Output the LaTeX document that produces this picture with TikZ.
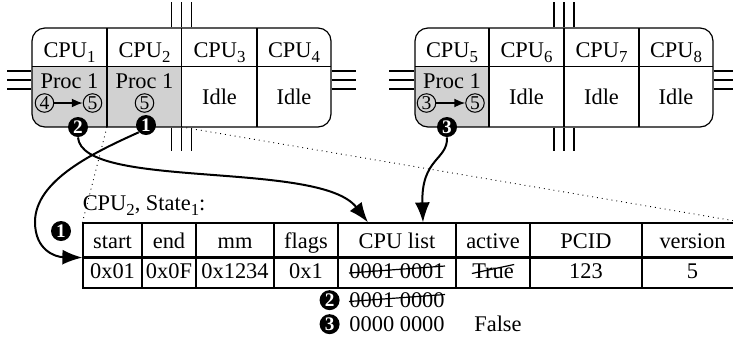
\documentclass[tikz,border=0pt]{standalone}
\usepackage{fontspec}
\setmainfont{Liberation Serif}
\usetikzlibrary{arrows.meta,calc}
\newdimen\px \px=0.5pt
\definecolor{cellgray}{gray}{0.82}
% lowered index after a name, e.g. CPU_2
\newcommand\idx[1]{\raisebox{-2.3pt}{\fontsize{8.4pt}{8.4pt}\selectfont #1}}
\begin{document}
\begin{tikzpicture}[x=0.5pt, y=-0.5pt,
  font=\fontsize{11.2pt}{13.4pt}\selectfont,
  frame/.style={line width=0.6pt},
  nodebox/.style={draw, frame, rounded corners=6.5pt, inner sep=0pt,
    minimum height=99*\px},
  tcell/.style={draw, line width=0.6pt, inner sep=0pt},
  txt/.style={inner sep=0pt, anchor=base},
  stepmark/.style={circle, fill=black, text=white, inner sep=0pt,
    minimum size=20*\px, font=\fontsize{9.6pt}{9.6pt}\selectfont\bfseries},
  circnum/.style={circle, draw, line width=0.5pt, inner sep=0pt,
    minimum size=18.5*\px, font=\fontsize{9.8pt}{9.8pt}\selectfont},
  bus/.style={line width=0.6pt},
  guide/.style={dotted, line width=0.45pt},
  bigarrow/.style={line width=1pt, -{Latex[length=10pt,width=7.5pt]}},
  smallarrow/.style={line width=0.8pt, -{Latex[length=5.5pt,width=4.5pt]}},
  strike/.style={line width=0.6pt}]

\path[use as bounding box] (0,0) rectangle (733,344);
\clip (0,0) rectangle (733,344);

% ---------- first NUMA node: CPU1..CPU4 ----------
\begin{scope}
  \clip[rounded corners=6.5pt] (32,28) rectangle (331,127);
  \fill[cellgray] (32,66.7) rectangle (181.5,127);
\end{scope}
\node[nodebox, minimum width=299*\px] (nodeA) at (181.5,77.5) {};
\draw[frame] (32,66.7) -- (331,66.7);
\foreach \x in {107,181.5,257} \draw[frame] (\x,28) -- (\x,127);
\foreach \d in {-10,0,10} {
  \draw[bus] ($(nodeA.north)+(\d,0)$) -- ++(0,-25);
  \draw[bus] ($(nodeA.south)+(\d,0)$) -- ++(0,23);
}
\foreach \d in {-6.5,2.5,11.5} {
  \draw[bus] ($(nodeA.west)+(0,\d)$) -- ++(-24,0);
  \draw[bus] ($(nodeA.east)+(0,\d)$) -- ++(24,0);
}
\node[txt] (c1) at (69.5,57.5) {CPU\idx{1}};
\node[txt] (c2) at (144.5,57.5) {CPU\idx{2}};
\node[txt] (c3) at (219.5,57.5) {CPU\idx{3}};
\node[txt] (c4) at (294,57.5) {CPU\idx{4}};
\node[txt] (p1) at (69.5,88.5) {Proc 1};
\node[circnum] (p1a) at (44.5,103) {4};
\node[circnum] (p1b) at (92.5,103) {5};
\draw[smallarrow] (p1a) -- (p1b);
\node[txt] (p2) at (144.5,88.5) {Proc 1};
\node[circnum] (p2a) at (144.5,103) {5};
\node[txt] (i3) at (219.5,104) {Idle};
\node[txt] (i4) at (294,104) {Idle};

% ---------- second NUMA node: CPU5..CPU8 ----------
\begin{scope}
  \clip[rounded corners=6.5pt] (415,28) rectangle (713,127);
  \fill[cellgray] (415,66.7) rectangle (489,127);
\end{scope}
\node[nodebox, minimum width=298*\px] (nodeB) at (564,77.5) {};
\draw[frame] (415,66.7) -- (713,66.7);
\foreach \x in {489,564,639} \draw[frame] (\x,28) -- (\x,127);
\foreach \d in {-10,0,10} {
  \draw[bus] ($(nodeB.north)+(\d,0)$) -- ++(0,-25);
  \draw[bus] ($(nodeB.south)+(\d,0)$) -- ++(0,23);
}
\foreach \d in {-6.5,2.5,11.5} {
  \draw[bus] ($(nodeB.west)+(0,\d)$) -- ++(-25,0);
  \draw[bus] ($(nodeB.east)+(0,\d)$) -- ++(30,0);
}
\node[txt] (c5) at (452,57.5) {CPU\idx{5}};
\node[txt] (c6) at (526.5,57.5) {CPU\idx{6}};
\node[txt] (c7) at (601.5,57.5) {CPU\idx{7}};
\node[txt] (c8) at (676,57.5) {CPU\idx{8}};
\node[txt] (p5) at (452,88.5) {Proc 1};
\node[circnum] (p5a) at (426.5,103) {3};
\node[circnum] (p5b) at (475,103) {5};
\draw[smallarrow] (p5a) -- (p5b);
\node[txt] (i6) at (526.5,104) {Idle};
\node[txt] (i7) at (601.5,104) {Idle};
\node[txt] (i8) at (676,104) {Idle};

% ---------- per-CPU state table ----------
\foreach \i/\l/\r/\ha/\va in {1/83/142/start/0x01, 2/142/196/end/0x0F,
    3/196/274/mm/0x1234, 4/274/338/flags/0x1, 5/338/456/CPU list/0001 0001,
    6/456/530/active/True, 7/530/642/PCID/123, 8/642/743/version/5} {
  \node[tcell, minimum width={(\r-\l)*\px}, minimum height=34*\px]
    (h\i) at ({(\l+\r)/2},240) {};
  \node[tcell, minimum width={(\r-\l)*\px}, minimum height=31*\px]
    (v\i) at ({(\l+\r)/2},272.5) {};
  \node[txt] (ht\i) at ({(\l+\r)/2},248.5) {\ha};
  \node[txt] (vt\i) at ({(\l+\r)/2},278.5) {\va};
}
\draw[line width=1.1pt] (h1.south west) -- (h8.south east);
\node[txt, anchor=base west] (title) at ($(h1.north west)+(0,-12)$)
  {CPU\idx{2}, State\idx{1}:};

% struck-out values and their replacements
\draw[strike] ($(vt5.base west)+(0,-5.5)$) -- ($(vt5.base east)+(0,-12.5)$);
\draw[strike] ($(vt6.base west)+(0,-5)$) -- ($(vt6.base east)+(0,-14)$);
\node[txt, anchor=base west] (s2) at ($(vt5.base west)+(0,29)$) {0001 0000};
\draw[strike] ($(s2.base west)+(0,-6)$) -- ($(s2.base east)+(0,-13)$);
\node[txt, anchor=base west] (s3) at ($(vt5.base west)+(0,53)$) {0000 0000};
\node[txt] (f3) at ($(vt6.base)+(5,53)$) {False};
\node[stepmark, anchor=east] (n2) at ($(s2.west)+(-9,0)$) {2};
\node[stepmark, anchor=east] (n3) at ($(s3.west)+(-9,0)$) {3};
\node[stepmark] (n1) at (61,231) {1};

% ---------- zoom guides ----------
\coordinate (d1) at (107,127);
\coordinate (d2) at (181.5,127);
\draw[guide] (d1) -- (h1.north west);
\draw[guide] (d2) -- (h8.north east);

% ---------- step markers and their arrows ----------
\node[stepmark] (m2) at (78,127) {2};
\node[stepmark] (m1) at (146,125) {1};
\node[stepmark] (m3) at (447,127) {3};
\draw[bigarrow] (m2.south) .. controls (82,190) and (320,160) .. ($(h5.north)+(-29,0)$);
\draw[bigarrow] (m3.south) .. controls (448,160) and (421,158) .. ($(h5.north)+(26,0)$);
\draw[bigarrow] (m1.south west) .. controls (95,152) and (35,180) .. (35,222)
  .. controls (35,250) and (55,257) .. (h1.south west);
\end{tikzpicture}
\end{document}
